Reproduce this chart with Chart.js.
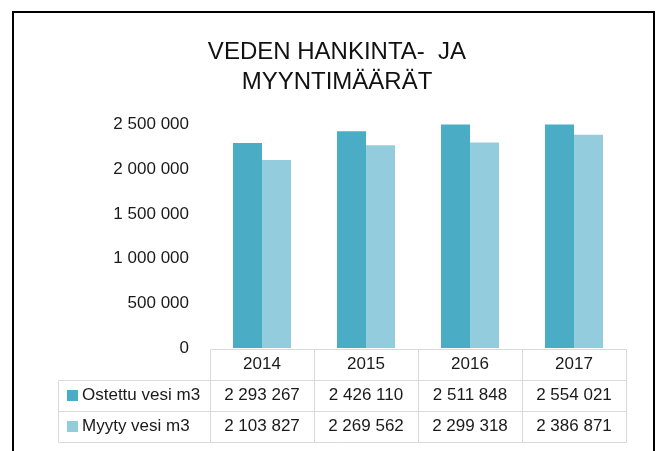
<!DOCTYPE html>
<html>
<head>
<meta charset="utf-8">
<script src="https://cdn.jsdelivr.net/npm/chart.js@4.4.0/dist/chart.umd.min.js"></script>
<style>
  html, body { margin: 0; padding: 0; background: #fff; }
  #wrap { position: relative; width: 660px; height: 451px; overflow: hidden; }
  #frame { position: absolute; left: 12px; top: 11px; width: 643px; height: 480px;
           border: 2px solid #000; box-sizing: border-box; pointer-events: none; }
  canvas { position: absolute; left: 0; top: 0; }
</style>
</head>
<body>
<div id="wrap">
  <canvas id="waterChart" width="660" height="451"></canvas>
  <div id="frame"></div>
</div>
<script>
// --- data ---
const years = ['2014', '2015', '2016', '2017'];
const purchased = [2293267, 2426110, 2511848, 2554021];
const sold = [2103827, 2269562, 2299318, 2386871];
const seriesNames = ['Ostettu vesi m3', 'Myyty vesi m3'];
const seriesColors = ['#4BACC6', '#93CDDD'];

const FONT = "'Liberation Sans', Arial, sans-serif";
const TEXT = '#1a1a1a';
const LINE = '#d9d9d9';

function fmt(n) {
    return String(n).replace(/\B(?=(\d{3})+(?!\d))/g, ' ');
}

// data table under the plot, columns follow the x scale
const dataTablePlugin = {
    id: 'dataTable',
    afterDraw(chart) {
        const ctx = chart.ctx;
        const area = chart.chartArea;
        const x = chart.scales.x;
        const colW = x.width / years.length;
        const tableLeft = 58;
        const rows = [area.bottom + 1, area.bottom + 32, area.bottom + 63, area.bottom + 94];
        const px = v => Math.round(v) + 0.5;

        ctx.save();
        ctx.strokeStyle = LINE;
        ctx.lineWidth = 1;
        ctx.beginPath();
        // header line (years only)
        ctx.moveTo(px(area.left), px(rows[0]));
        ctx.lineTo(px(area.right), px(rows[0]));
        // series row lines
        for (let r = 1; r < rows.length; r++) {
            ctx.moveTo(px(tableLeft), px(rows[r]));
            ctx.lineTo(px(area.right), px(rows[r]));
        }
        // column lines
        for (let i = 0; i <= years.length; i++) {
            const cx = area.left + i * colW;
            ctx.moveTo(px(cx), px(rows[0]));
            ctx.lineTo(px(cx), px(rows[3]));
        }
        ctx.moveTo(px(tableLeft), px(rows[1]));
        ctx.lineTo(px(tableLeft), px(rows[3]));
        ctx.stroke();

        ctx.font = '17px ' + FONT;
        ctx.fillStyle = TEXT;
        ctx.textBaseline = 'middle';
        ctx.textAlign = 'center';
        years.forEach((y, i) => {
            const cx = x.getPixelForValue(i);
            ctx.fillText(y, cx, (rows[0] + rows[1]) / 2);
        });

        [purchased, sold].forEach((vals, s) => {
            const cy = (rows[s + 1] + rows[s + 2]) / 2;
            ctx.textAlign = 'center';
            ctx.fillStyle = TEXT;
            vals.forEach((v, i) => {
                ctx.fillText(fmt(v), x.getPixelForValue(i), cy);
            });
            // legend key
            ctx.fillStyle = seriesColors[s];
            ctx.fillRect(67, Math.round(cy - 5.5), 11, 11);
            ctx.fillStyle = TEXT;
            ctx.textAlign = 'left';
            ctx.fillText(seriesNames[s], 82, cy);
        });
        ctx.restore();
    }
};

const chart = new Chart(document.getElementById('waterChart'), {
    type: 'bar',
    data: {
        labels: years,
        datasets: [
            { label: seriesNames[0], data: purchased, backgroundColor: seriesColors[0] },
            { label: seriesNames[1], data: sold, backgroundColor: seriesColors[1] }
        ]
    },
    options: {
        responsive: false,
        animation: false,
        layout: { padding: { left: 48, right: 34, top: 0, bottom: 103 } },
        datasets: {
            bar: {
                categoryPercentage: 0.558,
                barPercentage: 1,
                borderWidth: 0,
                clip: 0
            }
        },
        plugins: {
            legend: { display: false },
            tooltip: { enabled: false },
            title: {
                display: true,
                text: ['VEDEN HANKINTA-  JA', 'MYYNTIMÄÄRÄT'],
                color: '#111',
                font: { family: FONT, size: 24, weight: 'normal', lineHeight: 1.22 },
                padding: { top: 38, bottom: 28 }
            }
        },
        scales: {
            x: {
                display: false
            },
            y: {
                min: 0,
                max: 2500000,
                afterFit(scale) { scale.width = 162; },
                grid: { display: false, drawTicks: false },
                border: { display: false },
                ticks: {
                    stepSize: 500000,
                    padding: 21,
                    color: TEXT,
                    font: { family: FONT, size: 17 },
                    callback: v => fmt(v)
                }
            }
        }
    },
    plugins: [dataTablePlugin]
});
</script>
</body>
</html>
